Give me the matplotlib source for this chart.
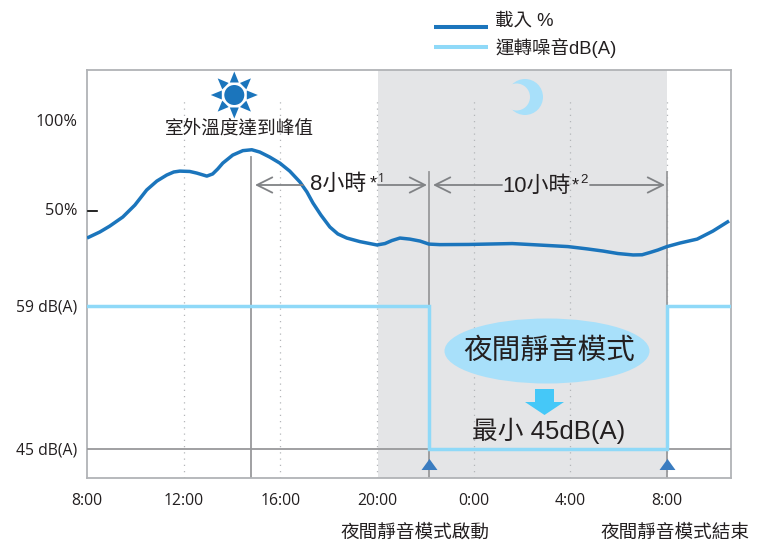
import matplotlib
matplotlib.use('Agg')
import matplotlib.pyplot as plt
from matplotlib.patches import Circle, Ellipse, Polygon
import numpy as np

plt.rcParams['font.family'] = ['Liberation Sans', 'Noto Sans CJK TC', 'DejaVu Sans']
TICK_FONT = ['Open Sans', 'Noto Sans CJK TC']

# hours counted from 0:00 of the first day, so 8:00 next morning is 32
load_hours = [8.0, 8.53, 8.94, 9.48, 9.98, 10.47, 10.89, 11.3, 11.59, 11.84, 12.25, 12.54,
              12.96, 13.2, 13.41, 13.62, 14.03, 14.45, 14.82, 15.15, 15.56, 15.98,
              16.39, 16.81, 17.1, 17.35, 17.68, 18.05, 18.38, 18.75, 19.29, 20.0, 20.33,
              20.62, 20.95, 21.36, 21.78, 22.15, 22.6, 23.8, 25.6, 27.9, 28.7, 29.35, 29.97,
              30.6, 30.97, 31.3, 31.63, 32.0, 32.54, 33.25, 33.9, 34.57]
load_pct = [33.7, 37.1, 40.4, 45.5, 52.2, 60.7, 65.7, 69.1, 70.8, 71.3, 71.1, 70.2,
            68.5, 69.7, 72.5, 75.8, 80.3, 82.8, 83.3, 82.0, 79.2, 75.8,
            71.3, 65.2, 59.6, 53.4, 46.6, 39.9, 36.0, 33.7, 31.7, 29.8, 30.6,
            32.3, 33.7, 33.1, 32.0, 30.3, 30.0, 30.1, 30.6, 28.9, 27.6, 26.4, 25.0,
            24.2, 24.3, 25.6, 27.0, 28.9, 30.9, 33.1, 37.6, 43.3]

noise_hours = [8, 22.15, 22.15, 32, 32, 34.6]
noise_db = [59, 59, 45, 45, 59, 59]

peak_hour = 14.77
night_start = 22.15
night_end = 32
x_ticks = [8, 12, 16, 20, 24, 28, 32]
x_labels = ['8:00', '12:00', '16:00', '20:00', '0:00', '4:00', '8:00']
dotted_hours = [12, 16, 20, 24, 28, 32]

W, H = 763, 542
BLUE = '#1b75bc'
LIGHT = '#8fd9f8'
GRAY = '#98999b'
TEXT = '#231f20'

fig = plt.figure(figsize=(W / 100, H / 100), dpi=100)
ax = fig.add_axes([87 / W, 1 - 478 / H, (731 - 87) / W, (478 - 70) / H])
ax.set_xlim(8, 34.65)
ax.set_ylim(-101.1, 128.1)
for s in ax.spines.values():
    s.set_color('#b1b3b6')
    s.set_linewidth(1.3)

ax.axvspan(20.03, night_end, color='#e4e5e7', lw=0, zorder=0)

ax.set_xticks(x_ticks, x_labels, family=TICK_FONT, fontsize=11.3, color=TEXT)
ax.set_yticks([50, 100], ['50%', '100%'], family=TICK_FONT, fontsize=11.8, color=TEXT)
ax.tick_params(axis='x', length=0, pad=11)
ax.tick_params(axis='y', length=0, pad=7)

for h in dotted_hours:
    ax.plot([h, h], [-101.1, 111], color='#b4b6b9', lw=0.9, ls=(0, (1, 4)), zorder=1)

for h in [peak_hour, night_start, night_end]:
    top = 79.2 if h == peak_hour else 70.8
    ax.plot([h, h], [-101.1, top], color=GRAY, lw=1.3, zorder=1)

ax.plot(load_hours, load_pct, color=BLUE, lw=2.5, solid_capstyle='butt', zorder=4)

# dB scale shares the frame but has its own spacing
ax2 = ax.twinx()
ax2.set_ylim(42.16, 82.1)
ax2.yaxis.tick_left()
ax2.set_yticks([45, 59], ['45 dB(A)', '59 dB(A)'], family=TICK_FONT, fontsize=11.3, color=TEXT)
ax2.tick_params(axis='y', length=0, pad=7)
for s in ax2.spines.values():
    s.set_visible(False)

ax2.axhline(45, color=GRAY, lw=1.3, zorder=1)
ax2.plot(noise_hours, noise_db, color=LIGHT, lw=2.5, solid_joinstyle='miter', zorder=3)

# night markers under the 45 dB line
flat_tri = [(-1, -0.69), (1, -0.69), (0, 0.69)]
ax2.plot([night_start, night_end], [43.55, 43.55], ls='none', marker=flat_tri, ms=11.5,
         color='#3a7cc0', mew=0, zorder=5)

# everything below is decoration placed in pixel coordinates
deco = fig.add_axes([0, 0, 1, 1], zorder=10)
deco.set_xlim(0, W)
deco.set_ylim(H, 0)
deco.axis('off')
deco.patch.set_alpha(0)

# legend, the keys sit off the text baseline in the original so it's done by hand
deco.plot([434, 488], [27, 27], color=BLUE, lw=2.9, solid_capstyle='butt')
deco.plot([434, 488], [47, 47], color=LIGHT, lw=2.9, solid_capstyle='butt')
deco.text(495, 21, '載入 %', fontsize=13.3, color=TEXT, ha='left', va='center')
deco.text(495, 48, '運轉噪音dB(A)', fontsize=13.3, color=TEXT, ha='left', va='center')

# sun
sx, sy = 234.3, 95
deco.add_patch(Circle((sx, sy), 10, color=BLUE, lw=0))
for i in range(8):
    a = i * np.pi / 4
    d = np.array([np.cos(a), np.sin(a)])
    n = np.array([-d[1], d[0]])
    c = np.array([sx, sy])
    deco.add_patch(Polygon([c + d * 12.5 + n * 4.5, c + d * 12.5 - n * 4.5, c + d * 23.5],
                           color=BLUE, lw=0))

# moon
deco.add_patch(Circle((525, 97), 18, color='#a8e0fa', lw=0))
deco.add_patch(Circle((516.5, 97), 13.5, color='#e4e5e7', lw=0))

deco.text(239, 129, '室外溫度達到峰值', fontsize=13.4, color=TEXT, ha='center', va='center')

# spans
arrow = dict(arrowstyle='->,head_length=1.1,head_width=0.55', color='#808285', lw=1.3,
             shrinkA=0, shrinkB=0)
deco.annotate('', (255, 185), (303, 185), arrowprops=arrow)
deco.annotate('', (427, 185), (378, 185), arrowprops=arrow)
deco.annotate('', (433, 185), (502, 185), arrowprops=arrow)
deco.annotate('', (665, 185), (590, 185), arrowprops=arrow)
deco.text(310, 184, '8小時', fontsize=15.8, color=TEXT, ha='left', va='center')
deco.text(373, 184, '*', fontsize=13, color=TEXT, ha='center', va='center')
deco.text(381, 178, '1', fontsize=8.5, color=TEXT, ha='center', va='center', family=TICK_FONT)
deco.text(502, 186, '10小時', fontsize=15.8, color=TEXT, ha='left', va='center')
deco.text(575, 186, '*', fontsize=13, color=TEXT, ha='center', va='center')
deco.text(584, 180, '2', fontsize=9.5, color=TEXT, ha='center', va='center')

# quiet mode callout
deco.add_patch(Ellipse((547, 351), 205, 65, color='#a8e0fa', lw=0))
deco.text(549, 351, '夜間靜音模式', fontsize=20.6, color=TEXT, ha='center', va='center',
          weight='medium')
deco.add_patch(Polygon([(535, 389), (554, 389), (554, 402), (564, 402), (544.5, 415),
                        (525, 402), (535, 402)], color='#45c8f8', lw=0))
deco.text(549, 431, '最小 45dB(A)', fontsize=18.5, color=TEXT, ha='center', va='center')

# 50% tick
deco.plot([88, 97], [211, 211], color='black', lw=1.2)

deco.text(415, 533, '夜間靜音模式啟動', fontsize=13.4, color=TEXT, ha='center', va='center')
deco.text(675, 533, '夜間靜音模式結束', fontsize=13.4, color=TEXT, ha='center', va='center')

fig.savefig('out.png', dpi=100)
